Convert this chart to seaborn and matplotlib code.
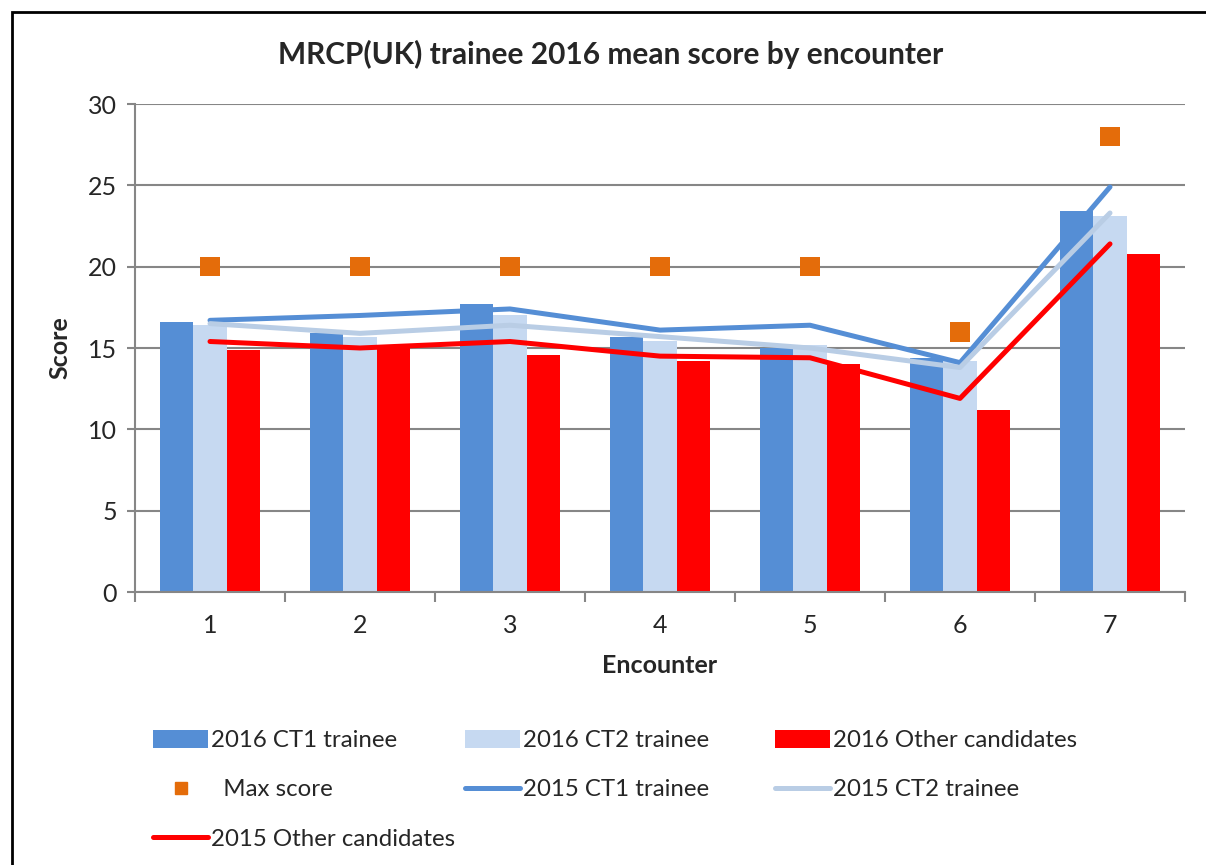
import numpy as np
import pandas as pd
import matplotlib.pyplot as plt
import seaborn as sns
from matplotlib.patches import Patch, Rectangle
from matplotlib.lines import Line2D

# data
encounters = ['1', '2', '3', '4', '5', '6', '7']
ct1_2016 = [16.6, 15.9, 17.7, 15.7, 15.0, 14.4, 23.4]
ct2_2016 = [16.4, 15.7, 17.0, 15.4, 15.2, 14.2, 23.1]
other_2016 = [14.9, 15.1, 14.6, 14.2, 14.0, 11.2, 20.8]
max_score = [20, 20, 20, 20, 20, 16, 28]
ct1_2015 = [16.7, 17.0, 17.4, 16.1, 16.4, 14.1, 24.9]
ct2_2015 = [16.5, 15.9, 16.4, 15.7, 15.0, 13.8, 23.3]
other_2015 = [15.4, 15.0, 15.4, 14.5, 14.4, 11.9, 21.4]

bar_labels = ['2016 CT1 trainee', '2016 CT2 trainee', '2016 Other candidates']
bar_colors = ['#558ED5', '#C6D9F1', '#FF0000']
grey = '#868686'

sns.set_theme(style='white')
plt.rcParams['font.family'] = ['Lato', 'DejaVu Sans']

bars = pd.DataFrame({
    'Encounter': encounters * 3,
    'Score': ct1_2016 + ct2_2016 + other_2016,
    'Series': np.repeat(bar_labels, len(encounters)),
})

fig = plt.figure(figsize=(12.06, 8.65), dpi=100)
ax = fig.add_axes([135 / 1206, 1 - 592 / 865, 1050 / 1206, 488 / 865])

sns.barplot(data=bars, x='Encounter', y='Score', hue='Series', palette=bar_colors,
            width=0.67, saturation=1, linewidth=0, legend=False, ax=ax, zorder=2)

sns.lineplot(x=encounters, y=ct1_2015, color='#558ED5', linewidth=3.6,
             solid_capstyle='round', ax=ax, zorder=3)
sns.lineplot(x=encounters, y=ct2_2015, color='#B9CDE5', linewidth=3.6,
             solid_capstyle='round', ax=ax, zorder=3)
sns.lineplot(x=encounters, y=other_2015, color='#FF0000', linewidth=3.6,
             solid_capstyle='round', ax=ax, zorder=3)
sns.scatterplot(x=encounters, y=max_score, marker='s', s=200, color='#E46C0A',
                edgecolor='none', ax=ax, zorder=4)

ax.set_xlim(-0.5, 6.5)
ax.set_ylim(0, 30)
ax.set_yticks(range(0, 31, 5))
ax.set_xticks(np.arange(-0.5, 7), minor=True)
ax.yaxis.grid(True, color=grey, linewidth=1.5)
ax.set_axisbelow(True)
for s in ['top', 'right']:
    ax.spines[s].set_visible(False)
for s in ['left', 'bottom']:
    ax.spines[s].set_color(grey)
    ax.spines[s].set_linewidth(1.5)
ax.tick_params(axis='y', length=6, width=1.5, color=grey, labelsize=18, pad=7, left=True)
ax.tick_params(axis='x', which='major', length=0, labelsize=18, pad=16)
ax.tick_params(axis='x', which='minor', length=7, width=1.5, color=grey, bottom=True)

ax.set_xlabel('Encounter', fontsize=18, fontweight='bold', labelpad=12)
ax.set_ylabel('Score', fontsize=18, fontweight='bold', labelpad=12)
fig.text(0.506, 1 - 54 / 865, 'MRCP(UK) trainee 2016 mean score by encounter',
         ha='center', va='center', fontsize=21.5, fontweight='bold')

# outer frame
fig.patches.append(Rectangle((12 / 1206, -0.1), 1.2, 1 - 12 / 865 + 0.1,
                             transform=fig.transFigure, fill=False,
                             edgecolor='black', linewidth=2))

# legend, three columns in excel order
def bar_h(c):
    return Patch(facecolor=c, edgecolor='none')

def line_h(c):
    return Line2D([], [], color=c, linewidth=3.6, solid_capstyle='round')

max_h = Line2D([], [], marker='s', linestyle='none', color='#E46C0A', markersize=8)

columns = [
    ([bar_h(bar_colors[0]), max_h, line_h('#FF0000')],
     [bar_labels[0], '  Max score', '2015 Other candidates'], 153),
    ([bar_h(bar_colors[1]), line_h('#558ED5')],
     [bar_labels[1], '2015 CT1 trainee'], 465),
    ([bar_h(bar_colors[2]), line_h('#B9CDE5')],
     [bar_labels[2], '2015 CT2 trainee'], 775),
]
for handles, labels, x in columns:
    fig.legend(handles, labels, loc='upper left', bbox_to_anchor=(x / 1206, 1 - 730 / 865),
               frameon=False, fontsize=17.3, handlelength=2.3, handleheight=0.75,
               handletextpad=0.1, labelspacing=1.17, borderpad=0, borderaxespad=0)

fig.savefig('out.png', dpi=100)
